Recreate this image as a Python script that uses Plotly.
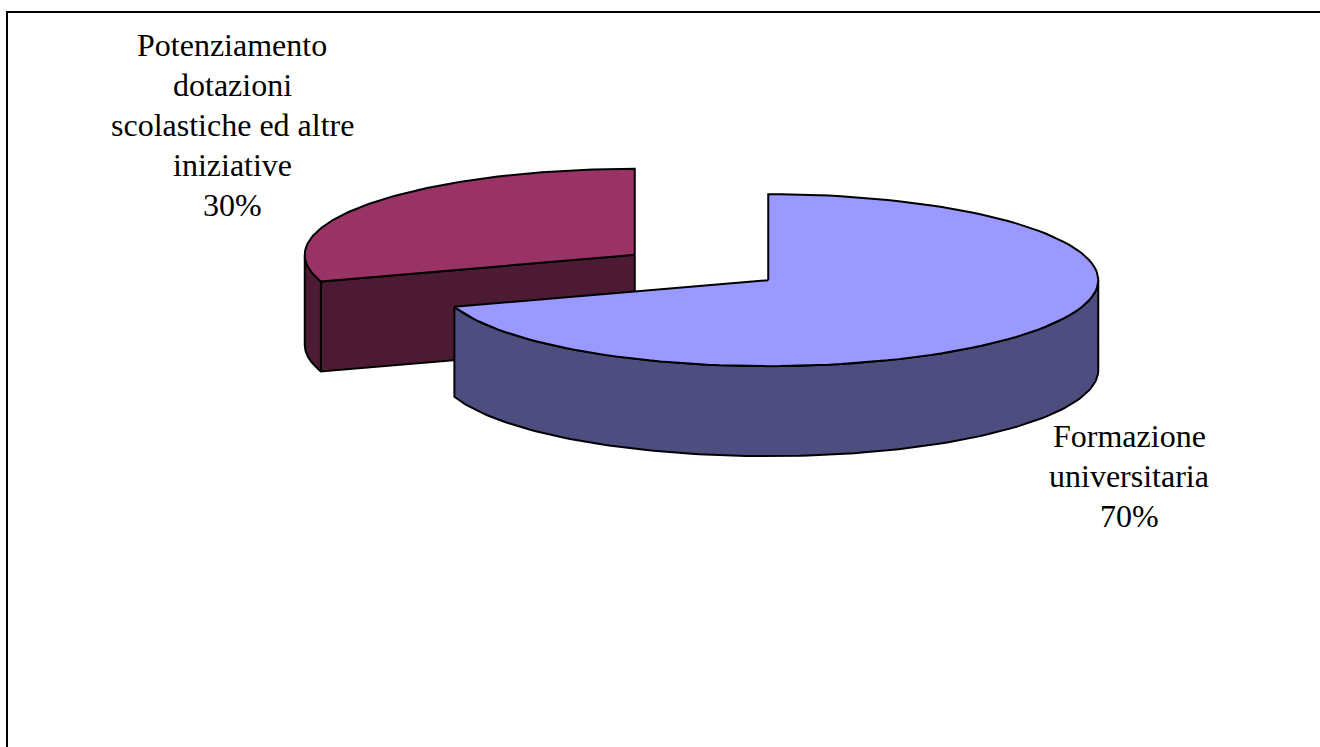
import numpy as np
import plotly.graph_objects as go

# ---- data ----
categories = ["Formazione universitaria",
              "Potenziamento dotazioni scolastiche ed altre iniziative"]
values = [70, 30]
label_lines = [["Formazione", "universitaria", "70%"],
               ["Potenziamento", "dotazioni", "scolastiche ed altre", "iniziative", "30%"]]

# ---- style / geometry ----
top_colors = ["#9999FF", "#993366"]
side_colors = ["#4D4D80", "#4C1A33"]
label_pos = [(1129, 436), (232, 45)]   # centre of first text line
LINE_STEP = 40
W, H = 1320, 747
CX, CY = 701.5, 267.5
RX, RY = 330.0, 86.0
DEPTH = 90.0
EXPLODE = 0.25
FONT = "Liberation Serif, Times New Roman, serif"


def pt(theta, cx, cy, dz=0.0):
    t = np.radians(theta)
    return cx + RX * np.sin(t), cy - RY * np.cos(t) + dz


def arc(a0, a1, cx, cy, dz=0.0, n=120):
    th = np.linspace(a0, a1, n)
    return pt(th, cx, cy, dz)


fig = go.Figure()


def poly(xs, ys, color):
    xs = list(xs) + [xs[0]]
    ys = list(ys) + [ys[0]]
    fig.add_trace(go.Scatter(x=xs, y=ys, mode="lines", fill="toself",
                             fillcolor=color,
                             line=dict(color="black", width=2),
                             hoverinfo="skip", showlegend=False))


total = float(sum(values))
slices = []
start = 0.0
for i, v in enumerate(values):
    span = 360.0 * v / total
    end = start + span
    mid = (start + end) / 2
    m = np.radians(mid)
    cx = CX + EXPLODE * RX * np.sin(m)
    cy = CY - EXPLODE * RY * np.cos(m)
    slices.append((i, start, end, cx, cy))
    start = end

# draw back-most slice first
for i, a0, a1, cx, cy in sorted(slices, key=lambda s: s[4]):
    if np.sin(np.radians(a0)) < -1e-6:
        ex, ey = pt(a0, cx, cy)
        poly([cx, ex, ex, cx], [cy, ey, ey + DEPTH, cy + DEPTH], side_colors[i])
    if np.sin(np.radians(a1)) > 1e-6:
        ex, ey = pt(a1, cx, cy)
        poly([cx, ex, ex, cx], [cy, ey, ey + DEPTH, cy + DEPTH], side_colors[i])
    s0, s1 = max(a0, 90.0), min(a1, 270.0)
    if s1 > s0:
        tx, ty = arc(s0, s1, cx, cy)
        bx, by = arc(s1, s0, cx, cy, DEPTH)
        poly(np.concatenate([tx, bx]), np.concatenate([ty, by]), side_colors[i])
    tx, ty = arc(a0, a1, cx, cy)
    poly(np.concatenate([[cx], tx]), np.concatenate([[cy], ty]), top_colors[i])

annotations = []
for i, lines in enumerate(label_lines):
    lx, ly = label_pos[i]
    for k, line in enumerate(lines):
        annotations.append(dict(x=lx, y=ly + k * LINE_STEP, xref="x", yref="y",
                                text=line, showarrow=False,
                                xanchor="center", yanchor="middle",
                                font=dict(family=FONT, size=32, color="black")))

border = dict(color="black", width=2)
fig.update_layout(
    width=W, height=H,
    margin=dict(l=0, r=0, t=0, b=0, pad=0),
    paper_bgcolor="white", plot_bgcolor="white",
    xaxis=dict(range=[0, W], visible=False, showline=False, zeroline=False,
               showgrid=False, fixedrange=True),
    yaxis=dict(range=[H, 0], visible=False, showline=False, zeroline=False,
               showgrid=False, fixedrange=True),
    annotations=annotations,
    shapes=[dict(type="path", xref="x", yref="y",
                 path=f"M 7 {H + 20} L 7 12 L {W + 20} 12",
                 line=border, layer="below")],
    showlegend=False,
)

fig.write_html("out.html",
               config={"displayModeBar": False, "staticPlot": True},
               post_script="document.body.style.margin='0px';"
                           "document.body.style.overflow='hidden';")
